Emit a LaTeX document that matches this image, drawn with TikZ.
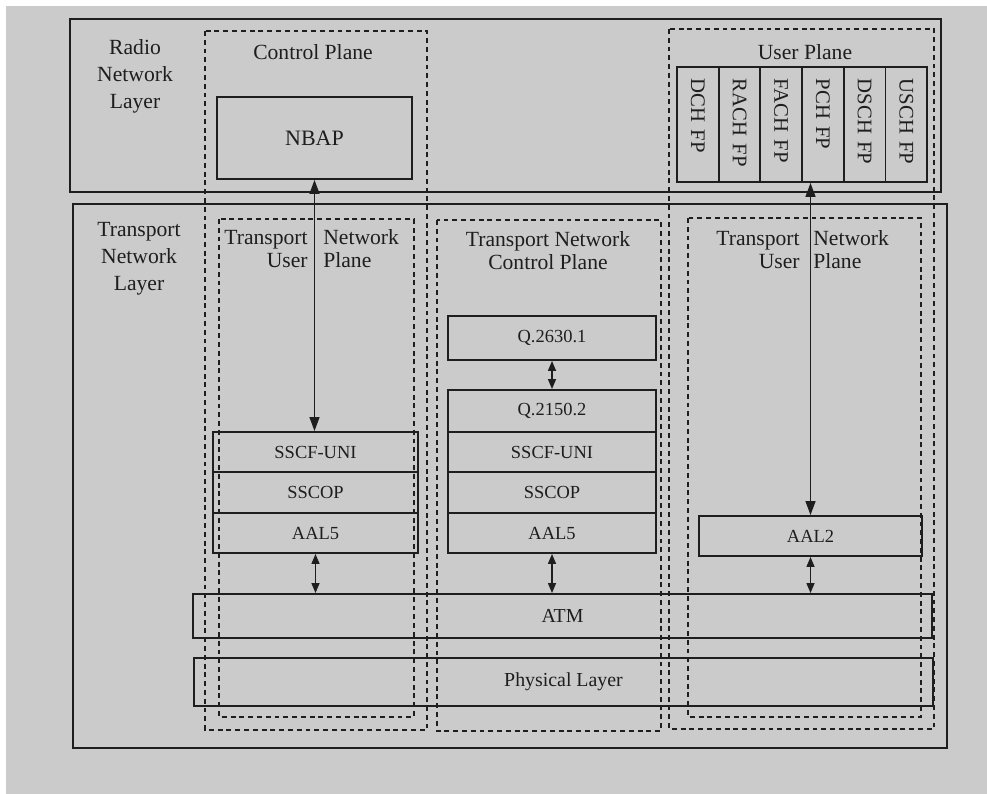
\documentclass[tikz,border=0pt]{standalone}
\usepackage{fontspec}
\setmainfont{Liberation Serif}
\usetikzlibrary{calc, arrows.meta}
\definecolor{paper}{RGB}{203,203,203}
\definecolor{ink}{RGB}{30,30,30}

\begin{document}
\begin{tikzpicture}[
    frame/.style={draw=ink, line width=1.2pt},
    plane/.style={draw=ink, line width=1.1pt, dash pattern=on 2.8pt off 2.2pt},
    title/.style={text=ink, font=\fontsize{12.3}{13}\selectfont, align=center},
    layerbox/.style={draw=ink, line width=1.1pt, text=ink, font=\fontsize{11.3}{13}\selectfont},
    stackbox/.style={draw=ink, line width=1.1pt, text=ink, font=\fontsize{10.5}{12}\selectfont},
    fpbox/.style={draw=ink, line width=1.1pt, text=ink, font=\fontsize{11.8}{13}\selectfont,
        rotate=-90, minimum width=2.30cm, minimum height=0.834cm,
        inner xsep=0.24cm, text width=1.82cm, align=left},
    bigarrow/.style={draw=ink, line width=0.8pt,
        {Triangle[length=0.28cm, width=0.2cm]}-{Triangle[length=0.28cm, width=0.2cm]}},
    smallarrow/.style={draw=ink, line width=0.8pt,
        {Triangle[length=0.2cm, width=0.16cm]}-{Triangle[length=0.2cm, width=0.16cm]}}
]

    % Background
    \useasboundingbox (0,0) rectangle (19.74,-15.88);
    \fill[white] (0,0) rectangle (19.74,-15.88);
    \fill[paper] (0.12,-0.12) rectangle (19.74,-15.88);

    % Draw layers
    \draw[frame] (1.40,-0.38) rectangle (18.82,-3.84);
    \draw[frame] (1.46,-4.08) rectangle (18.94,-14.96);

    % Draw planes
    \draw[plane] (4.10,-0.62) rectangle (8.54,-14.60);
    \draw[plane] (4.38,-4.38) rectangle (8.28,-14.34);
    \draw[plane] (8.74,-4.40) rectangle (13.22,-14.62);
    \draw[plane] (13.38,-0.58) rectangle (18.68,-14.58);
    \draw[plane] (13.76,-4.36) rectangle (18.42,-14.34);

    % Labels
    \node[title, font=\fontsize{12.3}{15.3}\selectfont] (radio) at (2.70,-1.52) {Radio\\Network\\Layer};
    \node[title, font=\fontsize{12.3}{15.3}\selectfont] (transport) at (2.78,-5.18) {Transport\\Network\\Layer};
    \node[title] (cplane) at (6.26,-1.04) {Control Plane};
    \node[title] (uplane) at (16.10,-1.04) {User Plane};
    \node[title] (tncp) at (10.96,-5.02) {Transport Network\\Control Plane};
    \node[title, anchor=east, align=right, inner xsep=0pt] (tnupla) at (6.16,-4.98) {Transport\\User};
    \node[title, anchor=west, align=left, inner xsep=0pt] (tnuplb) at (6.46,-4.98) {Network\\Plane};
    \node[title, anchor=east, align=right, inner xsep=0pt] (tnupra) at (16.00,-5.00) {Transport\\User};
    \node[title, anchor=west, align=left, inner xsep=0pt] (tnuprb) at (16.26,-5.00) {Network\\Plane};

    % Draw nodes
    \node[stackbox, font=\fontsize{12.5}{14}\selectfont, minimum width=3.90cm, minimum height=1.64cm] (nbap) at (6.29,-2.76) {NBAP};
    \foreach \lbl [count=\i] in {DCH FP, RACH FP, FACH FP, PCH FP, DSCH FP, USCH FP}
        \node[fpbox] (fp\i) at ({13.54+(\i-0.5)*0.834},-2.49) {\lbl};

    \node[stackbox, minimum width=4.10cm, minimum height=0.80cm] (sscfl) at (6.31,-9.04) {SSCF-UNI};
    \node[stackbox, minimum width=4.10cm, minimum height=0.82cm] (sscopl) at (6.31,-9.85) {SSCOP};
    \node[stackbox, minimum width=4.10cm, minimum height=0.80cm] (aalfivel) at (6.31,-10.66) {AAL5};

    \node[stackbox, minimum width=4.16cm, minimum height=0.88cm] (qtwosix) at (11.04,-6.76) {Q.2630.1};
    \node[stackbox, minimum width=4.16cm, minimum height=0.84cm] (qtwoone) at (11.04,-8.22) {Q.2150.2};
    \node[stackbox, minimum width=4.16cm, minimum height=0.80cm] (sscfm) at (11.04,-9.04) {SSCF-UNI};
    \node[stackbox, minimum width=4.16cm, minimum height=0.82cm] (sscopm) at (11.04,-9.85) {SSCOP};
    \node[stackbox, minimum width=4.16cm, minimum height=0.80cm] (aalfivem) at (11.04,-10.66) {AAL5};

    \node[stackbox, minimum width=4.46cm, minimum height=0.80cm] (aaltwo) at (16.21,-10.72) {AAL2};

    \node[layerbox, minimum width=14.78cm, minimum height=0.88cm] (atm) at (11.25,-12.32) {ATM};
    \node[layerbox, minimum width=14.78cm, minimum height=0.96cm] (phys) at (11.27,-13.64) {Physical Layer};

    % Draw arrows
    \draw[bigarrow] (nbap.south) -- (nbap.south |- sscfl.north);
    \draw[bigarrow] (aaltwo.north) -- (aaltwo.north |- fp1.east);
    \draw[smallarrow] (qtwosix.south) -- (qtwoone.north);
    \draw[smallarrow] (aalfivel.south) -- (aalfivel.south |- atm.north);
    \draw[smallarrow] (aalfivem.south) -- (aalfivem.south |- atm.north);
    \draw[smallarrow] (aaltwo.south) -- (aaltwo.south |- atm.north);

\end{tikzpicture}
\end{document}
